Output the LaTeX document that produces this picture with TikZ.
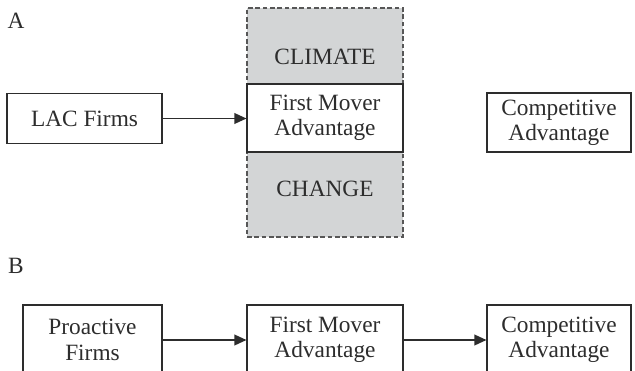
\documentclass[tikz,border=0pt]{standalone}
\usepackage{fontspec}
\setmainfont{Liberation Serif}
\usetikzlibrary{arrows.meta}
\usetikzlibrary{positioning}

\definecolor{zonegray}{RGB}{211,213,214}
\definecolor{inkgray}{RGB}{45,45,45}

\tikzset{
  box/.style={draw=inkgray, line width=0.8pt, fill=white, align=center, inner sep=0pt,
    font=\fontsize{17.5}{19}\selectfont, text=inkgray},
  zone/.style={draw=inkgray!80, dash pattern=on 3.5pt off 2pt, line width=0.8pt, fill=zonegray, inner sep=0pt},
  zonetext/.style={font=\fontsize{17.5}{19}\selectfont, text=inkgray},
  panel/.style={font=\fontsize{17.5}{19}\selectfont, text=inkgray},
  flow/.style={draw=inkgray, line width=1.1pt, -{Triangle[length=9pt,width=8pt]}}
}

\begin{document}
\begin{tikzpicture}[x=0.75pt,y=-0.75pt]
        \useasboundingbox (0,0) rectangle (635,371);

        % panel A
        \node[panel] (labA) at (16,21) {A};
        \node[zone, minimum width=117pt, minimum height=171.75pt] (climzone) at (325,122.5) {};
        \node[zonetext] (clim) at (325,57) {CLIMATE};
        \node[zonetext] (chg) at (325,189) {CHANGE};

        \node[box, minimum width=116.25pt, minimum height=37.5pt] (lac) at (84.5,118.5) {LAC Firms};
        \node[box, minimum width=117pt, minimum height=51pt] (fmaA) at (325,118) {First Mover\\Advantage};
        \node[box, minimum width=108pt, minimum height=44.25pt] (compA) at (559,122.5) {Competitive\\Advantage};

        \draw[flow] (lac.east) -- (fmaA.west |- lac.east);

        % panel B
        \node[panel] (labB) at (16,266) {B};
        \node[box, minimum width=104.25pt, minimum height=52.5pt] (pro) at (92.5,340) {Proactive\\Firms};
        \node[box, minimum width=117pt, minimum height=52.5pt] (fmaB) at (325,340) {First Mover\\Advantage};
        \node[box, minimum width=108pt, minimum height=52.5pt] (compB) at (559,340) {Competitive\\Advantage};

        \draw[flow] (pro.east) -- (fmaB.west);
        \draw[flow] (fmaB.east) -- (compB.west);
\end{tikzpicture}
\end{document}
